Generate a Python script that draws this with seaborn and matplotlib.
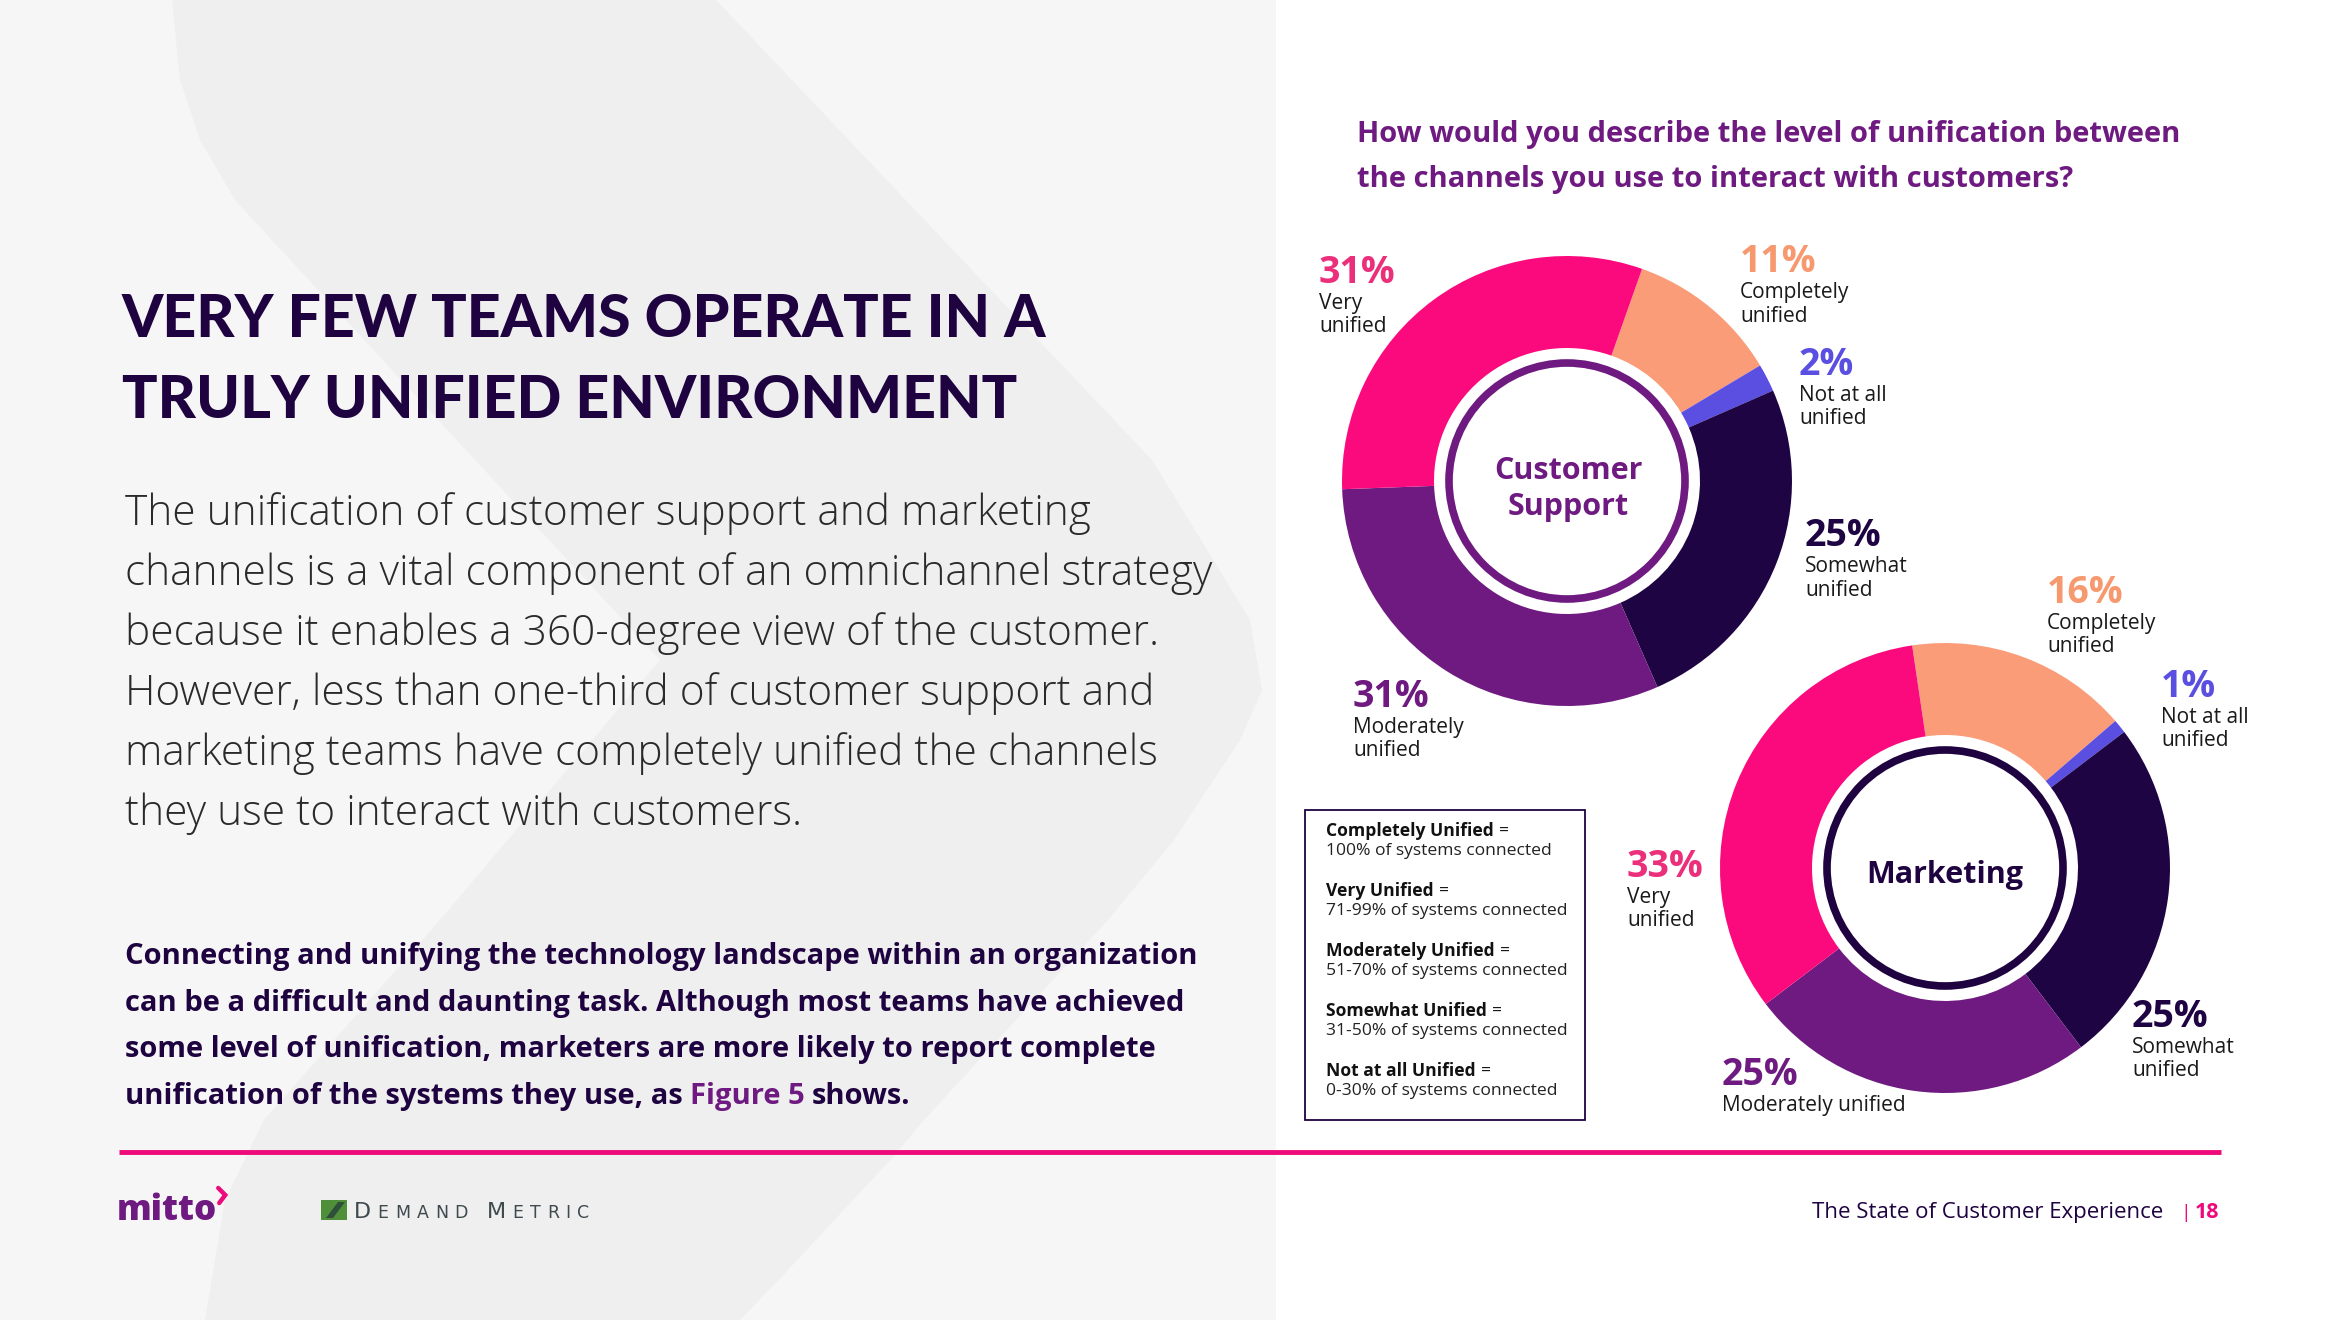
import matplotlib
matplotlib.use("Agg")
import matplotlib.pyplot as plt
import seaborn as sns
from matplotlib.patches import Rectangle, Polygon, Circle

# ---------------- data ----------------
categories = ["Completely unified", "Not at all unified", "Somewhat unified",
              "Moderately unified", "Very unified"]
cs_values = [11, 2, 25, 31, 31]
mkt_values = [16, 1, 25, 25, 33]
cs_sublabels = ["Completely\nunified", "Not at all\nunified", "Somewhat\nunified",
                "Moderately\nunified", "Very\nunified"]
mkt_sublabels = ["Completely\nunified", "Not at all\nunified", "Somewhat\nunified",
                 "Moderately unified", "Very\nunified"]
legend_terms = ["Completely Unified", "Very Unified", "Moderately Unified",
                "Somewhat Unified", "Not at all Unified"]
legend_ranges = ["100% of systems connected", "71-99% of systems connected",
                 "51-70% of systems connected", "31-50% of systems connected",
                 "0-30% of systems connected"]
title_lines = ["VERY FEW TEAMS OPERATE IN A", "TRULY UNIFIED ENVIRONMENT"]
body_lines = ["The unification of customer support and marketing",
              "channels is a vital component of an omnichannel strategy",
              "because it enables a 360-degree view of the customer.",
              "However, less than one-third of customer support and",
              "marketing teams have completely unified the channels",
              "they use to interact with customers."]
bold_lines = ["Connecting and unifying the technology landscape within an organization",
              "can be a difficult and daunting task. Although most teams have achieved",
              "some level of unification, marketers are more likely to report complete"]
question_lines = ["How would you describe the level of unification between",
                  "the channels you use to interact with customers?"]

# ---------------- style ----------------
sns.set_theme(style="white")
plt.rcParams["font.family"] = ["Open Sans", "DejaVu Sans"]
slice_colors = sns.color_palette(["#FA9C78", "#5A4FE0", "#1F0444", "#6E1A80", "#FB0A7E"])
label_colors = ["#F7996F", "#5A4FE0", "#1F0444", "#6E1A80", "#EB2F7B"]
DARK = "#1E0340"
PURPLE = "#6E1A80"
PINK = "#EE0A7A"
OS = ["Open Sans", "DejaVu Sans"]
LATO = ["Lato", "DejaVu Sans"]

W, H = 2340, 1320
def Y(y):
    return H - y

fig = plt.figure(figsize=(W / 100, H / 100), dpi=100)
ax = fig.add_axes([0, 0, 1, 1])
ax.set_xlim(0, W)
ax.set_ylim(0, H)
ax.axis("off")
fig.patch.set_facecolor("white")

# ---------------- background ----------------
panel = Rectangle((0, 0), 1276, H, facecolor="#F6F6F6", edgecolor="none", zorder=0)
ax.add_patch(panel)
chev = [(172, 0), (180, 80), (200, 140), (235, 200), (660, 660), (440, 920),
        (264, 1120), (225, 1200), (205, 1320), (740, 1320), (788, 1270),
        (893, 1157), (924, 1120), (1108, 920), (1174, 840), (1240, 740),
        (1262, 690), (1250, 620), (1152, 460), (716, 0)]
poly = Polygon([(x, Y(y)) for x, y in chev], closed=True, facecolor="#EFEFEF",
               edgecolor="none", zorder=0.5)
ax.add_patch(poly)
poly.set_clip_path(panel)

renderer = fig.canvas.get_renderer()

def chain(x, y, parts, gap):
    for s, props in parts:
        t = ax.text(x, Y(y), s, ha="left", va="baseline", **props)
        bb = t.get_window_extent(renderer)
        x = bb.x1 + gap
    return x

# ---------------- left text ----------------
for i, s in enumerate(title_lines):
    ax.text(122, Y(337 + i * 81), s, fontsize=42.5, fontweight="black", color=DARK,
            family=LATO, ha="left", va="baseline")
for i, s in enumerate(body_lines):
    ax.text(125, Y(525 + i * 60), s, fontsize=30.5, fontweight="light", color="#2A2A2A",
            family=OS, ha="left", va="baseline")
for i, s in enumerate(bold_lines):
    ax.text(125, Y(964 + i * 46.7), s, fontsize=21, fontweight="bold", color=DARK,
            family=OS, ha="left", va="baseline")
chain(125, 964 + 3 * 46.7,
      [("unification of the systems they use, as", dict(fontsize=21, fontweight="bold", color=DARK, family=OS)),
       ("Figure 5", dict(fontsize=21, fontweight="bold", color=PURPLE, family=OS)),
       ("shows.", dict(fontsize=21, fontweight="bold", color=DARK, family=OS))], 7)

# ---------------- question ----------------
for i, s in enumerate(question_lines):
    ax.text(1357, Y(142 + i * 45), s, fontsize=21, fontweight="bold", color=PURPLE,
            family=OS, ha="left", va="baseline")

# ---------------- donuts ----------------
R_OUT, R_IN, R_RING = 225, 133, 118

def donut(values, cx, cy, start, ring_color):
    ax.pie(values, colors=slice_colors, startangle=start, counterclock=False,
           radius=R_OUT, center=(cx, Y(cy)), frame=True,
           wedgeprops=dict(width=R_OUT - R_IN, linewidth=0))
    ax.add_patch(Circle((cx, Y(cy)), R_RING, fill=False, lw=5.5, ec=ring_color, zorder=3))

donut(cs_values, 1567, 481, 70.5, PURPLE)
donut(mkt_values, 1945, 868, 98.4, DARK)
ax.set_xlim(0, W)
ax.set_ylim(0, H)
ax.set_aspect("auto")
ax.axis("off")

ax.text(1568, Y(479), "Customer", fontsize=22, fontweight="bold", color=PURPLE,
        family=OS, ha="center", va="baseline")
ax.text(1568, Y(515), "Support", fontsize=22, fontweight="bold", color=PURPLE,
        family=OS, ha="center", va="baseline")
ax.text(1945, Y(883), "Marketing", fontsize=22, fontweight="bold", color=DARK,
        family=OS, ha="center", va="baseline")

cs_label_pos = [(1740, 272), (1799, 375), (1805, 546), (1353, 707), (1319, 283)]
mkt_label_pos = [(2047, 603), (2161, 697), (2132, 1027), (1722, 1085), (1627, 877)]

def labels(values, subs, pos):
    for v, sub, (x, y), c in zip(values, subs, pos, label_colors):
        ax.text(x, Y(y), f"{v}%", fontsize=27, fontweight="bold", color=c,
                family=OS, ha="left", va="baseline")
        for j, line in enumerate(sub.split("\n")):
            ax.text(x, Y(y + 26 + j * 23.5), line, fontsize=15, fontweight="normal",
                    color="#1A1A1A", family=OS, ha="left", va="baseline")

labels(cs_values, cs_sublabels, cs_label_pos)
labels(mkt_values, mkt_sublabels, mkt_label_pos)

# ---------------- legend box ----------------
ax.add_patch(Rectangle((1305, Y(1120)), 280, 310, fill=False, ec=DARK, lw=1.3, zorder=2))
for i, (term, rng) in enumerate(zip(legend_terms, legend_ranges)):
    yb = 836 + i * 60
    chain(1326, yb, [(term, dict(fontsize=12.6, fontweight="bold", color="#111111", family=OS)),
                     ("=", dict(fontsize=12.6, fontweight="normal", color="#111111", family=OS))], 5)
    ax.text(1326, Y(yb + 19), rng, fontsize=12.6, fontweight="normal", color="#222222",
            family=OS, ha="left", va="baseline")

# ---------------- footer ----------------
ax.plot([119, 2221], [Y(1152), Y(1152)], color=PINK, lw=3.5, solid_capstyle="butt")
xm = chain(117, 1220, [("mitto", dict(fontsize=25, fontweight="heavy", color=PURPLE, family=OS))], 0)
ax.plot([xm + 1, xm + 8, xm + 2], [Y(1188), Y(1195), Y(1203)], color=PINK, lw=3.2,
        solid_capstyle="round", solid_joinstyle="miter")
ax.add_patch(Rectangle((321, Y(1220)), 26, 20, facecolor="#4F8F3A", edgecolor="none"))
ax.add_patch(Polygon([(326, Y(1218)), (338, Y(1202)), (345, Y(1202)), (333, Y(1218))],
                     facecolor="#2F4F3A", edgecolor="none"))
dm_big = dict(fontsize=16, color="#3E4A4E", family=["DejaVu Sans"])
dm_small = dict(fontsize=12.5, color="#3E4A4E", family=["DejaVu Sans"])
xd = 354
for word in ["DEMAND", "METRIC"]:
    parts = [(word[0], dm_big)] + [(ch, dm_small) for ch in word[1:]]
    xd = chain(xd, 1218, parts, 6.5) + 12

ax.text(2163, Y(1218), "The State of Customer Experience", fontsize=16, color=DARK,
        family=OS, ha="right", va="baseline")
ax.text(2186, Y(1218), "|", fontsize=14, color=PINK, family=OS, ha="center", va="baseline")
ax.text(2219, Y(1218), "18", fontsize=15.5, fontweight="bold", color=PINK,
        family=OS, ha="right", va="baseline")

fig.savefig("out.png", dpi=100, facecolor="white")
